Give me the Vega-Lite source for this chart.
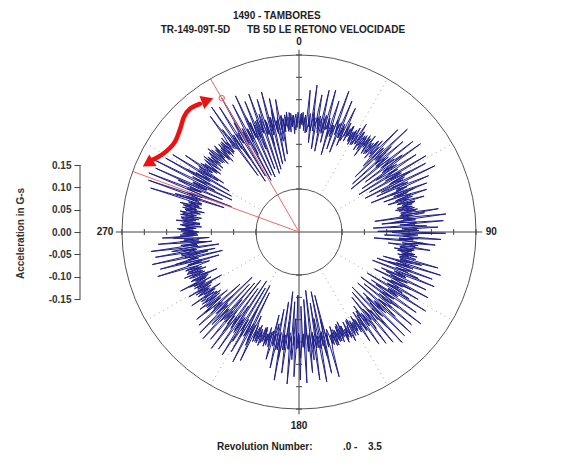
{
  "$schema": "https://vega.github.io/schema/vega-lite/v6.json",
  "width": 568,
  "height": 475,
  "padding": 0,
  "autosize": {"type": "none"},
  "background": "white",
  "config": {"view": {"stroke": null}, "font": "Liberation Sans"},
  "datasets": {
    "notes": [
      {"x": -0.1478, "y": 0.4835, "t": "1490 - TAMBORES"},
      {"x": -0.3095, "y": 0.4522, "t": "TR-149-09T-5D"},
      {"x": -0.1164, "y": 0.4522, "t": "TB 5D LE RETONO VELOCIDADE"},
      {"x": -0.1836, "y": -0.4813, "t": "Revolution Number:"},
      {"x": 0.0985, "y": -0.4813, "t": ".0 -"},
      {"x": 0.1545, "y": -0.4813, "t": "3.5"}
    ],
    "scaleline": [{"x": -0.4903, "y": -0.15, "y2": 0.15}],
    "polar": [
      {"p":"grid","d":30,"mG":-150},{"p":"grid","d":30,"mG":150},
      {"p":"grid","d":60,"mG":-150},{"p":"grid","d":60,"mG":150},
      {"p":"grid","d":120,"mG":-150},{"p":"grid","d":120,"mG":150},
      {"p":"grid","d":150,"mG":-150},{"p":"grid","d":150,"mG":150},
      {"p":"grid","d":210,"mG":-150},{"p":"grid","d":210,"mG":150},
      {"p":"grid","d":240,"mG":-150},{"p":"grid","d":240,"mG":150},
      {"p":"grid","d":300,"mG":-150},{"p":"grid","d":300,"mG":150},
      {"p":"grid","d":330,"mG":-150},{"p":"grid","d":330,"mG":150},
      {"p":"ring","d":0,"mG":150},{"p":"ring","d":0,"mG":-150},
      {"p":"axis","k":"v","d":0,"mG":162},{"p":"axis","k":"v","d":180,"mG":162},
      {"p":"axis","k":"h","d":90,"mG":164},{"p":"axis","k":"h","d":270,"mG":164},
      {"p":"tick","d":0,"mG":-150},{"p":"tick","d":0,"mG":-100},{"p":"tick","d":0,"mG":-50},{"p":"tick","d":0,"mG":0},{"p":"tick","d":0,"mG":50},{"p":"tick","d":0,"mG":100},{"p":"tick","d":0,"mG":150},
      {"p":"tick","d":90,"mG":-150},{"p":"tick","d":90,"mG":-100},{"p":"tick","d":90,"mG":-50},{"p":"tick","d":90,"mG":0},{"p":"tick","d":90,"mG":50},{"p":"tick","d":90,"mG":100},{"p":"tick","d":90,"mG":150},
      {"p":"tick","d":180,"mG":-150},{"p":"tick","d":180,"mG":-100},{"p":"tick","d":180,"mG":-50},{"p":"tick","d":180,"mG":0},{"p":"tick","d":180,"mG":50},{"p":"tick","d":180,"mG":100},{"p":"tick","d":180,"mG":150},
      {"p":"tick","d":270,"mG":-150},{"p":"tick","d":270,"mG":-100},{"p":"tick","d":270,"mG":-50},{"p":"tick","d":270,"mG":0},{"p":"tick","d":270,"mG":50},{"p":"tick","d":270,"mG":100},{"p":"tick","d":270,"mG":150},
      {"p":"red","d":330,"mG":-246.3},{"p":"red","d":330,"mG":150},
      {"p":"red","d":290,"mG":-246.3},{"p":"red","d":290,"mG":150},
      {"p":"arrow","i":1,"d":322.3,"mG":116},{"p":"arrow","i":2,"d":318.5,"mG":122},{"p":"arrow","i":3,"d":315,"mG":118},
      {"p":"arrow","i":4,"d":310.6,"mG":105},{"p":"arrow","i":5,"d":305.5,"mG":97},{"p":"arrow","i":6,"d":299.8,"mG":105},
      {"p":"arrow","i":7,"d":296.1,"mG":120},
      {"p":"head","d":325.2,"mG":112.6,"dir":340},{"p":"head","d":294.4,"mG":125.3,"dir":148},
      {"p":"mark","d":330,"mG":100},
      {"p":"lbl","d":0,"mG":179,"t":"0"},{"p":"lbl","d":90,"mG":184,"t":"90"},
      {"p":"lbl","d":180,"mG":189,"t":"180"},{"p":"lbl","d":270,"mG":188,"t":"270"},
      {"d":0,"mG":8},{"d":0.5,"mG":-15},{"d":1,"mG":18},{"d":1.5,"mG":-6},{"d":2,"mG":22},{"d":2.5,"mG":-19},{"d":3,"mG":10},{"d":3.5,"mG":-24},{"d":4,"mG":14},{"d":4.5,"mG":72},
      {"d":5,"mG":-10},{"d":5.5,"mG":20},{"d":6,"mG":-45},{"d":6.5,"mG":6},{"d":7,"mG":85},{"d":7.5,"mG":-18},{"d":8,"mG":12},{"d":8.5,"mG":-58},{"d":9,"mG":25},{"d":9.5,"mG":65},
      {"d":10,"mG":-12},{"d":10.5,"mG":18},{"d":11,"mG":-62},{"d":11.5,"mG":4},{"d":12,"mG":78},{"d":12.5,"mG":-20},{"d":13,"mG":15},{"d":13.5,"mG":-40},{"d":14,"mG":22},{"d":14.5,"mG":82},
      {"d":15,"mG":-8},{"d":15.5,"mG":10},{"d":16,"mG":-66},{"d":16.5,"mG":18},{"d":17,"mG":60},{"d":17.5,"mG":-22},{"d":18,"mG":5},{"d":18.5,"mG":-50},{"d":19,"mG":20},{"d":19.5,"mG":88},
      {"d":20,"mG":-15},{"d":20.5,"mG":12},{"d":21,"mG":-55},{"d":21.5,"mG":8},{"d":22,"mG":70},{"d":22.5,"mG":-18},{"d":23,"mG":16},{"d":23.5,"mG":-35},{"d":24,"mG":20},{"d":24.5,"mG":58},
      {"d":25,"mG":-10},{"d":25.5,"mG":24},{"d":26,"mG":-20},{"d":26.5,"mG":12},{"d":27,"mG":-6},{"d":27.5,"mG":20},{"d":28,"mG":-14},{"d":28.5,"mG":9},{"d":29,"mG":-22},{"d":29.5,"mG":16},
      {"d":30,"mG":-8},{"d":30.5,"mG":24},{"d":31,"mG":-18},{"d":31.5,"mG":6},{"d":32,"mG":38},{"d":32.5,"mG":-12},{"d":33,"mG":19},{"d":33.5,"mG":-26},{"d":34,"mG":4},{"d":34.5,"mG":15},
      {"d":35,"mG":-21},{"d":35.5,"mG":11},{"d":36,"mG":-35},{"d":36.5,"mG":22},{"d":37,"mG":-9},{"d":37.5,"mG":17},{"d":38,"mG":-16},{"d":38.5,"mG":28},{"d":39,"mG":-5},{"d":39.5,"mG":-20},
      {"d":40,"mG":14},{"d":40.5,"mG":-10},{"d":41,"mG":22},{"d":41.5,"mG":-25},{"d":42,"mG":8},{"d":42.5,"mG":30},{"d":43,"mG":-17},{"d":43.5,"mG":12},{"d":44,"mG":72},{"d":44.5,"mG":-15},
      {"d":45,"mG":20},{"d":45.5,"mG":-70},{"d":46,"mG":6},{"d":46.5,"mG":88},{"d":47,"mG":-12},{"d":47.5,"mG":18},{"d":48,"mG":-85},{"d":48.5,"mG":10},{"d":49,"mG":62},{"d":49.5,"mG":-20},
      {"d":50,"mG":15},{"d":50.5,"mG":-95},{"d":51,"mG":8},{"d":51.5,"mG":80},{"d":52,"mG":-14},{"d":52.5,"mG":22},{"d":53,"mG":-60},{"d":53.5,"mG":10},{"d":54,"mG":90},{"d":54.5,"mG":-18},
      {"d":55,"mG":12},{"d":55.5,"mG":-75},{"d":56,"mG":20},{"d":56.5,"mG":68},{"d":57,"mG":-8},{"d":57.5,"mG":16},{"d":58,"mG":-88},{"d":58.5,"mG":4},{"d":59,"mG":85},{"d":59.5,"mG":-22},
      {"d":60,"mG":18},{"d":60.5,"mG":-65},{"d":61,"mG":10},{"d":61.5,"mG":76},{"d":62,"mG":-12},{"d":62.5,"mG":20},{"d":63,"mG":-80},{"d":63.5,"mG":6},{"d":64,"mG":92},{"d":64.5,"mG":-16},
      {"d":65,"mG":14},{"d":65.5,"mG":-55},{"d":66,"mG":22},{"d":66.5,"mG":70},{"d":67,"mG":-10},{"d":67.5,"mG":8},{"d":68,"mG":-72},{"d":68.5,"mG":18},{"d":69,"mG":60},{"d":69.5,"mG":-20},
      {"d":70,"mG":12},{"d":70.5,"mG":-45},{"d":71,"mG":16},{"d":71.5,"mG":55},{"d":72,"mG":-14},{"d":72.5,"mG":20},{"d":73,"mG":-38},{"d":73.5,"mG":10},{"d":74,"mG":45},{"d":74.5,"mG":-18},
      {"d":75,"mG":22},{"d":75.5,"mG":-8},{"d":76,"mG":15},{"d":76.5,"mG":-20},{"d":77,"mG":10},{"d":77.5,"mG":-25},{"d":78,"mG":18},{"d":78.5,"mG":-6},{"d":79,"mG":24},{"d":79.5,"mG":-15},
      {"d":80,"mG":12},{"d":80.5,"mG":70},{"d":81,"mG":-18},{"d":81.5,"mG":10},{"d":82,"mG":-75},{"d":82.5,"mG":20},{"d":83,"mG":85},{"d":83.5,"mG":-12},{"d":84,"mG":16},{"d":84.5,"mG":-60},
      {"d":85,"mG":8},{"d":85.5,"mG":78},{"d":86,"mG":-20},{"d":86.5,"mG":14},{"d":87,"mG":-80},{"d":87.5,"mG":22},{"d":88,"mG":65},{"d":88.5,"mG":-10},{"d":89,"mG":18},{"d":89.5,"mG":-70},
      {"d":90,"mG":6},{"d":90.5,"mG":82},{"d":91,"mG":-16},{"d":91.5,"mG":20},{"d":92,"mG":-55},{"d":92.5,"mG":12},{"d":93,"mG":72},{"d":93.5,"mG":-22},{"d":94,"mG":10},{"d":94.5,"mG":-78},
      {"d":95,"mG":18},{"d":95.5,"mG":60},{"d":96,"mG":-14},{"d":96.5,"mG":22},{"d":97,"mG":-45},{"d":97.5,"mG":8},{"d":98,"mG":50},{"d":98.5,"mG":-18},{"d":99,"mG":15},{"d":99.5,"mG":-30},
      {"d":100,"mG":10},{"d":100.5,"mG":-22},{"d":101,"mG":18},{"d":101.5,"mG":-12},{"d":102,"mG":24},{"d":102.5,"mG":-20},{"d":103,"mG":6},{"d":103.5,"mG":-15},{"d":104,"mG":20},{"d":104.5,"mG":75},
      {"d":105,"mG":-12},{"d":105.5,"mG":16},{"d":106,"mG":-50},{"d":106.5,"mG":8},{"d":107,"mG":85},{"d":107.5,"mG":-18},{"d":108,"mG":22},{"d":108.5,"mG":-62},{"d":109,"mG":10},{"d":109.5,"mG":70},
      {"d":110,"mG":-16},{"d":110.5,"mG":14},{"d":111,"mG":-70},{"d":111.5,"mG":20},{"d":112,"mG":80},{"d":112.5,"mG":-10},{"d":113,"mG":12},{"d":113.5,"mG":-45},{"d":114,"mG":18},{"d":114.5,"mG":66},
      {"d":115,"mG":-20},{"d":115.5,"mG":8},{"d":116,"mG":-58},{"d":116.5,"mG":24},{"d":117,"mG":78},{"d":117.5,"mG":-14},{"d":118,"mG":16},{"d":118.5,"mG":-35},{"d":119,"mG":10},{"d":119.5,"mG":60},
      {"d":120,"mG":-18},{"d":120.5,"mG":22},{"d":121,"mG":-68},{"d":121.5,"mG":12},{"d":122,"mG":88},{"d":122.5,"mG":-10},{"d":123,"mG":16},{"d":123.5,"mG":-52},{"d":124,"mG":20},{"d":124.5,"mG":72},
      {"d":125,"mG":-15},{"d":125.5,"mG":8},{"d":126,"mG":-75},{"d":126.5,"mG":18},{"d":127,"mG":95},{"d":127.5,"mG":-20},{"d":128,"mG":14},{"d":128.5,"mG":-60},{"d":129,"mG":22},{"d":129.5,"mG":80},
      {"d":130,"mG":-12},{"d":130.5,"mG":10},{"d":131,"mG":-72},{"d":131.5,"mG":18},{"d":132,"mG":90},{"d":132.5,"mG":-16},{"d":133,"mG":20},{"d":133.5,"mG":-48},{"d":134,"mG":6},{"d":134.5,"mG":85},
      {"d":135,"mG":-22},{"d":135.5,"mG":14},{"d":136,"mG":-75},{"d":136.5,"mG":12},{"d":137,"mG":92},{"d":137.5,"mG":-10},{"d":138,"mG":18},{"d":138.5,"mG":-66},{"d":139,"mG":22},{"d":139.5,"mG":78},
      {"d":140,"mG":-14},{"d":140.5,"mG":8},{"d":141,"mG":-58},{"d":141.5,"mG":20},{"d":142,"mG":70},{"d":142.5,"mG":-18},{"d":143,"mG":16},{"d":143.5,"mG":-40},{"d":144,"mG":12},{"d":144.5,"mG":62},
      {"d":145,"mG":-20},{"d":145.5,"mG":22},{"d":146,"mG":-30},{"d":146.5,"mG":10},{"d":147,"mG":45},{"d":147.5,"mG":-14},{"d":148,"mG":18},{"d":148.5,"mG":-25},{"d":149,"mG":8},{"d":149.5,"mG":-12},
      {"d":150,"mG":20},{"d":150.5,"mG":-18},{"d":151,"mG":12},{"d":151.5,"mG":-25},{"d":152,"mG":6},{"d":152.5,"mG":28},{"d":153,"mG":-10},{"d":153.5,"mG":18},{"d":154,"mG":-22},{"d":154.5,"mG":14},
      {"d":155,"mG":-6},{"d":155.5,"mG":25},{"d":156,"mG":-16},{"d":156.5,"mG":9},{"d":157,"mG":-28},{"d":157.5,"mG":20},{"d":158,"mG":-12},{"d":158.5,"mG":16},{"d":159,"mG":-20},{"d":159.5,"mG":11},
      {"d":160,"mG":-8},{"d":160.5,"mG":22},{"d":161,"mG":-15},{"d":161.5,"mG":10},{"d":162,"mG":-24},{"d":162.5,"mG":18},{"d":163,"mG":-6},{"d":163.5,"mG":14},{"d":164,"mG":30},{"d":164.5,"mG":90},
      {"d":165,"mG":-12},{"d":165.5,"mG":20},{"d":166,"mG":-100},{"d":166.5,"mG":8},{"d":167,"mG":78},{"d":167.5,"mG":-18},{"d":168,"mG":14},{"d":168.5,"mG":-110},{"d":169,"mG":22},{"d":169.5,"mG":95},
      {"d":170,"mG":-10},{"d":170.5,"mG":16},{"d":171,"mG":-85},{"d":171.5,"mG":12},{"d":172,"mG":88},{"d":172.5,"mG":-20},{"d":173,"mG":18},{"d":173.5,"mG":-115},{"d":174,"mG":6},{"d":174.5,"mG":70},
      {"d":175,"mG":-14},{"d":175.5,"mG":22},{"d":176,"mG":-95},{"d":176.5,"mG":10},{"d":177,"mG":92},{"d":177.5,"mG":-18},{"d":178,"mG":12},{"d":178.5,"mG":-80},{"d":179,"mG":20},{"d":179.5,"mG":85},
      {"d":180,"mG":-16},{"d":180.5,"mG":14},{"d":181,"mG":-105},{"d":181.5,"mG":22},{"d":182,"mG":78},{"d":182.5,"mG":-12},{"d":183,"mG":8},{"d":183.5,"mG":-90},{"d":184,"mG":18},{"d":184.5,"mG":95},
      {"d":185,"mG":-20},{"d":185.5,"mG":16},{"d":186,"mG":-112},{"d":186.5,"mG":10},{"d":187,"mG":72},{"d":187.5,"mG":-14},{"d":188,"mG":20},{"d":188.5,"mG":-88},{"d":189,"mG":12},{"d":189.5,"mG":90},
      {"d":190,"mG":-18},{"d":190.5,"mG":22},{"d":191,"mG":-70},{"d":191.5,"mG":8},{"d":192,"mG":65},{"d":192.5,"mG":-12},{"d":193,"mG":16},{"d":193.5,"mG":-55},{"d":194,"mG":20},{"d":194.5,"mG":48},
      {"d":195,"mG":-15},{"d":195.5,"mG":10},{"d":196,"mG":-24},{"d":196.5,"mG":18},{"d":197,"mG":-8},{"d":197.5,"mG":22},{"d":198,"mG":-16},{"d":198.5,"mG":12},{"d":199,"mG":-20},{"d":199.5,"mG":6},
      {"d":200,"mG":24},{"d":200.5,"mG":-14},{"d":201,"mG":10},{"d":201.5,"mG":-22},{"d":202,"mG":18},{"d":202.5,"mG":-6},{"d":203,"mG":20},{"d":203.5,"mG":-18},{"d":204,"mG":12},{"d":204.5,"mG":70},
      {"d":205,"mG":-16},{"d":205.5,"mG":22},{"d":206,"mG":-95},{"d":206.5,"mG":8},{"d":207,"mG":80},{"d":207.5,"mG":-12},{"d":208,"mG":18},{"d":208.5,"mG":-110},{"d":209,"mG":14},{"d":209.5,"mG":62},
      {"d":210,"mG":-20},{"d":210.5,"mG":10},{"d":211,"mG":-100},{"d":211.5,"mG":16},{"d":212,"mG":78},{"d":212.5,"mG":-14},{"d":213,"mG":22},{"d":213.5,"mG":-115},{"d":214,"mG":12},{"d":214.5,"mG":72},
      {"d":215,"mG":-18},{"d":215.5,"mG":8},{"d":216,"mG":-90},{"d":216.5,"mG":20},{"d":217,"mG":80},{"d":217.5,"mG":-10},{"d":218,"mG":14},{"d":218.5,"mG":-108},{"d":219,"mG":18},{"d":219.5,"mG":65},
      {"d":220,"mG":-16},{"d":220.5,"mG":12},{"d":221,"mG":-95},{"d":221.5,"mG":20},{"d":222,"mG":75},{"d":222.5,"mG":-12},{"d":223,"mG":18},{"d":223.5,"mG":-85},{"d":224,"mG":8},{"d":224.5,"mG":70},
      {"d":225,"mG":-20},{"d":225.5,"mG":14},{"d":226,"mG":-100},{"d":226.5,"mG":22},{"d":227,"mG":60},{"d":227.5,"mG":-14},{"d":228,"mG":10},{"d":228.5,"mG":-70},{"d":229,"mG":16},{"d":229.5,"mG":55},
      {"d":230,"mG":-18},{"d":230.5,"mG":20},{"d":231,"mG":-40},{"d":231.5,"mG":12},{"d":232,"mG":35},{"d":232.5,"mG":-22},{"d":233,"mG":16},{"d":233.5,"mG":-28},{"d":234,"mG":10},{"d":234.5,"mG":22},
      {"d":235,"mG":-14},{"d":235.5,"mG":45},{"d":236,"mG":-20},{"d":236.5,"mG":8},{"d":237,"mG":-36},{"d":237.5,"mG":18},{"d":238,"mG":-10},{"d":238.5,"mG":24},{"d":239,"mG":-16},{"d":239.5,"mG":40},
      {"d":240,"mG":-12},{"d":240.5,"mG":14},{"d":241,"mG":-48},{"d":241.5,"mG":20},{"d":242,"mG":-6},{"d":242.5,"mG":18},{"d":243,"mG":-25},{"d":243.5,"mG":50},{"d":244,"mG":-14},{"d":244.5,"mG":10},
      {"d":245,"mG":-22},{"d":245.5,"mG":16},{"d":246,"mG":-45},{"d":246.5,"mG":8},{"d":247,"mG":20},{"d":247.5,"mG":-18},{"d":248,"mG":30},{"d":248.5,"mG":-10},{"d":249,"mG":12},{"d":249.5,"mG":-24},
      {"d":250,"mG":18},{"d":250.5,"mG":-16},{"d":251,"mG":22},{"d":251.5,"mG":-10},{"d":252,"mG":14},{"d":252.5,"mG":85},{"d":253,"mG":-18},{"d":253.5,"mG":12},{"d":254,"mG":-60},{"d":254.5,"mG":20},
      {"d":255,"mG":75},{"d":255.5,"mG":-14},{"d":256,"mG":10},{"d":256.5,"mG":-70},{"d":257,"mG":16},{"d":257.5,"mG":90},{"d":258,"mG":-20},{"d":258.5,"mG":22},{"d":259,"mG":-55},{"d":259.5,"mG":8},
      {"d":260,"mG":80},{"d":260.5,"mG":-12},{"d":261,"mG":18},{"d":261.5,"mG":-65},{"d":262,"mG":14},{"d":262.5,"mG":88},{"d":263,"mG":-16},{"d":263.5,"mG":20},{"d":264,"mG":-50},{"d":264.5,"mG":10},
      {"d":265,"mG":70},{"d":265.5,"mG":-22},{"d":266,"mG":12},{"d":266.5,"mG":-45},{"d":267,"mG":16},{"d":267.5,"mG":60},{"d":268,"mG":-10},{"d":268.5,"mG":20},{"d":269,"mG":-18},{"d":269.5,"mG":12},
      {"d":270,"mG":-22},{"d":270.5,"mG":18},{"d":271,"mG":-10},{"d":271.5,"mG":26},{"d":272,"mG":-16},{"d":272.5,"mG":8},{"d":273,"mG":-28},{"d":273.5,"mG":20},{"d":274,"mG":-12},{"d":274.5,"mG":15},
      {"d":275,"mG":-24},{"d":275.5,"mG":30},{"d":276,"mG":-8},{"d":276.5,"mG":18},{"d":277,"mG":-20},{"d":277.5,"mG":10},{"d":278,"mG":-26},{"d":278.5,"mG":22},{"d":279,"mG":-14},{"d":279.5,"mG":6},
      {"d":280,"mG":24},{"d":280.5,"mG":-18},{"d":281,"mG":12},{"d":281.5,"mG":-30},{"d":282,"mG":20},{"d":282.5,"mG":-10},{"d":283,"mG":16},{"d":283.5,"mG":-22},{"d":284,"mG":28},{"d":284.5,"mG":-14},
      {"d":285,"mG":8},{"d":285.5,"mG":-20},{"d":286,"mG":18},{"d":286.5,"mG":100},{"d":287,"mG":-12},{"d":287.5,"mG":20},{"d":288,"mG":-70},{"d":288.5,"mG":10},{"d":289,"mG":110},{"d":289.5,"mG":-16},
      {"d":290,"mG":14},{"d":290.5,"mG":-85},{"d":291,"mG":22},{"d":291.5,"mG":115},{"d":292,"mG":-10},{"d":292.5,"mG":18},{"d":293,"mG":-60},{"d":293.5,"mG":12},{"d":294,"mG":105},{"d":294.5,"mG":-20},
      {"d":295,"mG":16},{"d":295.5,"mG":-80},{"d":296,"mG":8},{"d":296.5,"mG":120},{"d":297,"mG":-14},{"d":297.5,"mG":22},{"d":298,"mG":-75},{"d":298.5,"mG":10},{"d":299,"mG":95},{"d":299.5,"mG":-18},
      {"d":300,"mG":20},{"d":300.5,"mG":-65},{"d":301,"mG":12},{"d":301.5,"mG":85},{"d":302,"mG":-16},{"d":302.5,"mG":18},{"d":303,"mG":-45},{"d":303.5,"mG":10},{"d":304,"mG":60},{"d":304.5,"mG":-12},
      {"d":305,"mG":22},{"d":305.5,"mG":-20},{"d":306,"mG":14},{"d":306.5,"mG":-28},{"d":307,"mG":8},{"d":307.5,"mG":20},{"d":308,"mG":-16},{"d":308.5,"mG":26},{"d":309,"mG":-10},{"d":309.5,"mG":18},
      {"d":310,"mG":-24},{"d":310.5,"mG":12},{"d":311,"mG":-14},{"d":311.5,"mG":22},{"d":312,"mG":-8},{"d":312.5,"mG":30},{"d":313,"mG":-18},{"d":313.5,"mG":10},{"d":314,"mG":-26},{"d":314.5,"mG":16},
      {"d":315,"mG":-12},{"d":315.5,"mG":24},{"d":316,"mG":-20},{"d":316.5,"mG":8},{"d":317,"mG":-30},{"d":317.5,"mG":20},{"d":318,"mG":-6},{"d":318.5,"mG":18},{"d":319,"mG":-22},{"d":319.5,"mG":14},
      {"d":320,"mG":-10},{"d":320.5,"mG":26},{"d":321,"mG":-16},{"d":321.5,"mG":12},{"d":322,"mG":30},{"d":322.5,"mG":80},{"d":323,"mG":-14},{"d":323.5,"mG":18},{"d":324,"mG":-90},{"d":324.5,"mG":10},
      {"d":325,"mG":95},{"d":325.5,"mG":-20},{"d":326,"mG":16},{"d":326.5,"mG":-110},{"d":327,"mG":22},{"d":327.5,"mG":85},{"d":328,"mG":-12},{"d":328.5,"mG":14},{"d":329,"mG":-100},{"d":329.5,"mG":20},
      {"d":330,"mG":100},{"d":330.5,"mG":-16},{"d":331,"mG":10},{"d":331.5,"mG":-115},{"d":332,"mG":18},{"d":332.5,"mG":75},{"d":333,"mG":-20},{"d":333.5,"mG":12},{"d":334,"mG":-105},{"d":334.5,"mG":16},
      {"d":335,"mG":90},{"d":335.5,"mG":-14},{"d":336,"mG":22},{"d":336.5,"mG":-112},{"d":337,"mG":8},{"d":337.5,"mG":70},{"d":338,"mG":-18},{"d":338.5,"mG":20},{"d":339,"mG":-95},{"d":339.5,"mG":12},
      {"d":340,"mG":82},{"d":340.5,"mG":-12},{"d":341,"mG":16},{"d":341.5,"mG":-108},{"d":342,"mG":20},{"d":342.5,"mG":65},{"d":343,"mG":-18},{"d":343.5,"mG":10},{"d":344,"mG":-100},{"d":344.5,"mG":14},
      {"d":345,"mG":78},{"d":345.5,"mG":-22},{"d":346,"mG":18},{"d":346.5,"mG":-90},{"d":347,"mG":12},{"d":347.5,"mG":60},{"d":348,"mG":-16},{"d":348.5,"mG":8},{"d":349,"mG":-85},{"d":349.5,"mG":20},
      {"d":350,"mG":55},{"d":350.5,"mG":-14},{"d":351,"mG":16},{"d":351.5,"mG":-70},{"d":352,"mG":10},{"d":352.5,"mG":-20},{"d":353,"mG":18},{"d":353.5,"mG":-8},{"d":354,"mG":24},{"d":354.5,"mG":-16},
      {"d":355,"mG":12},{"d":355.5,"mG":-22},{"d":356,"mG":20},{"d":356.5,"mG":-10},{"d":357,"mG":15},{"d":357.5,"mG":-26},{"d":358,"mG":8},{"d":358.5,"mG":18},{"d":359,"mG":-12},{"d":359.5,"mG":22},
      {"d":360,"mG":8},
      {"rev":2,"d":0.25,"mG":-14},{"rev":2,"d":1.25,"mG":20},{"rev":2,"d":2.25,"mG":-8},{"rev":2,"d":3.25,"mG":16},{"rev":2,"d":4.25,"mG":-22},{"rev":2,"d":5.25,"mG":10},{"rev":2,"d":6.25,"mG":-18},{"rev":2,"d":7.25,"mG":24},{"rev":2,"d":8.25,"mG":-6},{"rev":2,"d":9.25,"mG":14},
      {"rev":2,"d":10.25,"mG":-20},{"rev":2,"d":11.25,"mG":12},{"rev":2,"d":12.25,"mG":-16},{"rev":2,"d":13.25,"mG":22},{"rev":2,"d":14.25,"mG":-10},{"rev":2,"d":15.25,"mG":18},{"rev":2,"d":16.25,"mG":-24},{"rev":2,"d":17.25,"mG":8},{"rev":2,"d":18.25,"mG":-12},{"rev":2,"d":19.25,"mG":20},
      {"rev":2,"d":20.25,"mG":-6},{"rev":2,"d":21.25,"mG":16},{"rev":2,"d":22.25,"mG":-18},{"rev":2,"d":23.25,"mG":10},{"rev":2,"d":24.25,"mG":-22},{"rev":2,"d":25.25,"mG":14},{"rev":2,"d":26.25,"mG":-8},{"rev":2,"d":27.25,"mG":20},{"rev":2,"d":28.25,"mG":-16},{"rev":2,"d":29.25,"mG":12},
      {"rev":2,"d":30.25,"mG":-20},{"rev":2,"d":31.25,"mG":8},{"rev":2,"d":32.25,"mG":-14},{"rev":2,"d":33.25,"mG":22},{"rev":2,"d":34.25,"mG":-12},{"rev":2,"d":35.25,"mG":18},{"rev":2,"d":36.25,"mG":-6},{"rev":2,"d":37.25,"mG":16},{"rev":2,"d":38.25,"mG":-22},{"rev":2,"d":39.25,"mG":10},
      {"rev":2,"d":40.25,"mG":-16},{"rev":2,"d":41.25,"mG":24},{"rev":2,"d":42.25,"mG":-10},{"rev":2,"d":43.25,"mG":14},{"rev":2,"d":44.25,"mG":-40},{"rev":2,"d":45.25,"mG":20},{"rev":2,"d":46.25,"mG":-12},{"rev":2,"d":47.25,"mG":35},{"rev":2,"d":48.25,"mG":-18},{"rev":2,"d":49.25,"mG":8},
      {"rev":2,"d":50.25,"mG":-22},{"rev":2,"d":51.25,"mG":16},{"rev":2,"d":52.25,"mG":-8},{"rev":2,"d":53.25,"mG":42},{"rev":2,"d":54.25,"mG":-14},{"rev":2,"d":55.25,"mG":20},{"rev":2,"d":56.25,"mG":-38},{"rev":2,"d":57.25,"mG":12},{"rev":2,"d":58.25,"mG":-20},{"rev":2,"d":59.25,"mG":18},
      {"rev":2,"d":60.25,"mG":-10},{"rev":2,"d":61.25,"mG":36},{"rev":2,"d":62.25,"mG":-18},{"rev":2,"d":63.25,"mG":14},{"rev":2,"d":64.25,"mG":-42},{"rev":2,"d":65.25,"mG":22},{"rev":2,"d":66.25,"mG":-8},{"rev":2,"d":67.25,"mG":16},{"rev":2,"d":68.25,"mG":-24},{"rev":2,"d":69.25,"mG":30},
      {"rev":2,"d":70.25,"mG":-12},{"rev":2,"d":71.25,"mG":18},{"rev":2,"d":72.25,"mG":-20},{"rev":2,"d":73.25,"mG":10},{"rev":2,"d":74.25,"mG":-16},{"rev":2,"d":75.25,"mG":22},{"rev":2,"d":76.25,"mG":-6},{"rev":2,"d":77.25,"mG":14},{"rev":2,"d":78.25,"mG":-18},{"rev":2,"d":79.25,"mG":20},
      {"rev":2,"d":80.25,"mG":-14},{"rev":2,"d":81.25,"mG":38},{"rev":2,"d":82.25,"mG":-20},{"rev":2,"d":83.25,"mG":12},{"rev":2,"d":84.25,"mG":-36},{"rev":2,"d":85.25,"mG":18},{"rev":2,"d":86.25,"mG":-10},{"rev":2,"d":87.25,"mG":40},{"rev":2,"d":88.25,"mG":-16},{"rev":2,"d":89.25,"mG":22},
      {"rev":2,"d":90.25,"mG":-38},{"rev":2,"d":91.25,"mG":14},{"rev":2,"d":92.25,"mG":-12},{"rev":2,"d":93.25,"mG":20},{"rev":2,"d":94.25,"mG":-22},{"rev":2,"d":95.25,"mG":34},{"rev":2,"d":96.25,"mG":-8},{"rev":2,"d":97.25,"mG":16},{"rev":2,"d":98.25,"mG":-18},{"rev":2,"d":99.25,"mG":12},
      {"rev":2,"d":100.25,"mG":-20},{"rev":2,"d":101.25,"mG":16},{"rev":2,"d":102.25,"mG":-10},{"rev":2,"d":103.25,"mG":22},{"rev":2,"d":104.25,"mG":-14},{"rev":2,"d":105.25,"mG":38},{"rev":2,"d":106.25,"mG":-18},{"rev":2,"d":107.25,"mG":12},{"rev":2,"d":108.25,"mG":-35},{"rev":2,"d":109.25,"mG":20},
      {"rev":2,"d":110.25,"mG":-8},{"rev":2,"d":111.25,"mG":40},{"rev":2,"d":112.25,"mG":-16},{"rev":2,"d":113.25,"mG":14},{"rev":2,"d":114.25,"mG":-32},{"rev":2,"d":115.25,"mG":22},{"rev":2,"d":116.25,"mG":-12},{"rev":2,"d":117.25,"mG":36},{"rev":2,"d":118.25,"mG":-20},{"rev":2,"d":119.25,"mG":10},
      {"rev":2,"d":120.25,"mG":-16},{"rev":2,"d":121.25,"mG":42},{"rev":2,"d":122.25,"mG":-10},{"rev":2,"d":123.25,"mG":18},{"rev":2,"d":124.25,"mG":-38},{"rev":2,"d":125.25,"mG":14},{"rev":2,"d":126.25,"mG":-20},{"rev":2,"d":127.25,"mG":34},{"rev":2,"d":128.25,"mG":-8},{"rev":2,"d":129.25,"mG":22},
      {"rev":2,"d":130.25,"mG":-14},{"rev":2,"d":131.25,"mG":40},{"rev":2,"d":132.25,"mG":-18},{"rev":2,"d":133.25,"mG":12},{"rev":2,"d":134.25,"mG":-36},{"rev":2,"d":135.25,"mG":20},{"rev":2,"d":136.25,"mG":-10},{"rev":2,"d":137.25,"mG":44},{"rev":2,"d":138.25,"mG":-16},{"rev":2,"d":139.25,"mG":18},
      {"rev":2,"d":140.25,"mG":-22},{"rev":2,"d":141.25,"mG":30},{"rev":2,"d":142.25,"mG":-12},{"rev":2,"d":143.25,"mG":16},{"rev":2,"d":144.25,"mG":-28},{"rev":2,"d":145.25,"mG":20},{"rev":2,"d":146.25,"mG":-8},{"rev":2,"d":147.25,"mG":14},{"rev":2,"d":148.25,"mG":-18},{"rev":2,"d":149.25,"mG":12},
      {"rev":2,"d":150.25,"mG":-10},{"rev":2,"d":151.25,"mG":18},{"rev":2,"d":152.25,"mG":-22},{"rev":2,"d":153.25,"mG":14},{"rev":2,"d":154.25,"mG":-6},{"rev":2,"d":155.25,"mG":20},{"rev":2,"d":156.25,"mG":-16},{"rev":2,"d":157.25,"mG":10},{"rev":2,"d":158.25,"mG":-24},{"rev":2,"d":159.25,"mG":16},
      {"rev":2,"d":160.25,"mG":-12},{"rev":2,"d":161.25,"mG":22},{"rev":2,"d":162.25,"mG":-8},{"rev":2,"d":163.25,"mG":16},{"rev":2,"d":164.25,"mG":-20},{"rev":2,"d":165.25,"mG":12},{"rev":2,"d":166.25,"mG":-45},{"rev":2,"d":167.25,"mG":38},{"rev":2,"d":168.25,"mG":-14},{"rev":2,"d":169.25,"mG":20},
      {"rev":2,"d":170.25,"mG":-50},{"rev":2,"d":171.25,"mG":16},{"rev":2,"d":172.25,"mG":-12},{"rev":2,"d":173.25,"mG":42},{"rev":2,"d":174.25,"mG":-18},{"rev":2,"d":175.25,"mG":22},{"rev":2,"d":176.25,"mG":-48},{"rev":2,"d":177.25,"mG":14},{"rev":2,"d":178.25,"mG":-10},{"rev":2,"d":179.25,"mG":36},
      {"rev":2,"d":180.25,"mG":-20},{"rev":2,"d":181.25,"mG":16},{"rev":2,"d":182.25,"mG":-52},{"rev":2,"d":183.25,"mG":40},{"rev":2,"d":184.25,"mG":-12},{"rev":2,"d":185.25,"mG":18},{"rev":2,"d":186.25,"mG":-44},{"rev":2,"d":187.25,"mG":20},{"rev":2,"d":188.25,"mG":-16},{"rev":2,"d":189.25,"mG":38},
      {"rev":2,"d":190.25,"mG":-14},{"rev":2,"d":191.25,"mG":22},{"rev":2,"d":192.25,"mG":-36},{"rev":2,"d":193.25,"mG":12},{"rev":2,"d":194.25,"mG":-18},{"rev":2,"d":195.25,"mG":20},{"rev":2,"d":196.25,"mG":-10},{"rev":2,"d":197.25,"mG":14},{"rev":2,"d":198.25,"mG":-22},{"rev":2,"d":199.25,"mG":16},
      {"rev":2,"d":200.25,"mG":-8},{"rev":2,"d":201.25,"mG":20},{"rev":2,"d":202.25,"mG":-16},{"rev":2,"d":203.25,"mG":12},{"rev":2,"d":204.25,"mG":-40},{"rev":2,"d":205.25,"mG":34},{"rev":2,"d":206.25,"mG":-18},{"rev":2,"d":207.25,"mG":14},{"rev":2,"d":208.25,"mG":-50},{"rev":2,"d":209.25,"mG":22},
      {"rev":2,"d":210.25,"mG":-12},{"rev":2,"d":211.25,"mG":40},{"rev":2,"d":212.25,"mG":-20},{"rev":2,"d":213.25,"mG":16},{"rev":2,"d":214.25,"mG":-46},{"rev":2,"d":215.25,"mG":18},{"rev":2,"d":216.25,"mG":-10},{"rev":2,"d":217.25,"mG":36},{"rev":2,"d":218.25,"mG":-22},{"rev":2,"d":219.25,"mG":14},
      {"rev":2,"d":220.25,"mG":-48},{"rev":2,"d":221.25,"mG":20},{"rev":2,"d":222.25,"mG":-14},{"rev":2,"d":223.25,"mG":38},{"rev":2,"d":224.25,"mG":-18},{"rev":2,"d":225.25,"mG":12},{"rev":2,"d":226.25,"mG":-42},{"rev":2,"d":227.25,"mG":22},{"rev":2,"d":228.25,"mG":-10},{"rev":2,"d":229.25,"mG":30},
      {"rev":2,"d":230.25,"mG":-16},{"rev":2,"d":231.25,"mG":20},{"rev":2,"d":232.25,"mG":-12},{"rev":2,"d":233.25,"mG":24},{"rev":2,"d":234.25,"mG":-20},{"rev":2,"d":235.25,"mG":10},{"rev":2,"d":236.25,"mG":-18},{"rev":2,"d":237.25,"mG":22},{"rev":2,"d":238.25,"mG":-8},{"rev":2,"d":239.25,"mG":16},
      {"rev":2,"d":240.25,"mG":-22},{"rev":2,"d":241.25,"mG":14},{"rev":2,"d":242.25,"mG":-10},{"rev":2,"d":243.25,"mG":28},{"rev":2,"d":244.25,"mG":-16},{"rev":2,"d":245.25,"mG":20},{"rev":2,"d":246.25,"mG":-24},{"rev":2,"d":247.25,"mG":12},{"rev":2,"d":248.25,"mG":-14},{"rev":2,"d":249.25,"mG":22},
      {"rev":2,"d":250.25,"mG":-10},{"rev":2,"d":251.25,"mG":18},{"rev":2,"d":252.25,"mG":-36},{"rev":2,"d":253.25,"mG":14},{"rev":2,"d":254.25,"mG":-20},{"rev":2,"d":255.25,"mG":40},{"rev":2,"d":256.25,"mG":-12},{"rev":2,"d":257.25,"mG":16},{"rev":2,"d":258.25,"mG":-38},{"rev":2,"d":259.25,"mG":22},
      {"rev":2,"d":260.25,"mG":-14},{"rev":2,"d":261.25,"mG":42},{"rev":2,"d":262.25,"mG":-18},{"rev":2,"d":263.25,"mG":12},{"rev":2,"d":264.25,"mG":-34},{"rev":2,"d":265.25,"mG":20},{"rev":2,"d":266.25,"mG":-10},{"rev":2,"d":267.25,"mG":36},{"rev":2,"d":268.25,"mG":-20},{"rev":2,"d":269.25,"mG":14},
      {"rev":2,"d":270.25,"mG":-18},{"rev":2,"d":271.25,"mG":22},{"rev":2,"d":272.25,"mG":-10},{"rev":2,"d":273.25,"mG":16},{"rev":2,"d":274.25,"mG":-24},{"rev":2,"d":275.25,"mG":12},{"rev":2,"d":276.25,"mG":-14},{"rev":2,"d":277.25,"mG":20},{"rev":2,"d":278.25,"mG":-8},{"rev":2,"d":279.25,"mG":18},
      {"rev":2,"d":280.25,"mG":-22},{"rev":2,"d":281.25,"mG":14},{"rev":2,"d":282.25,"mG":-12},{"rev":2,"d":283.25,"mG":20},{"rev":2,"d":284.25,"mG":-16},{"rev":2,"d":285.25,"mG":10},{"rev":2,"d":286.25,"mG":-20},{"rev":2,"d":287.25,"mG":44},{"rev":2,"d":288.25,"mG":-14},{"rev":2,"d":289.25,"mG":18},
      {"rev":2,"d":290.25,"mG":-40},{"rev":2,"d":291.25,"mG":22},{"rev":2,"d":292.25,"mG":-10},{"rev":2,"d":293.25,"mG":48},{"rev":2,"d":294.25,"mG":-18},{"rev":2,"d":295.25,"mG":16},{"rev":2,"d":296.25,"mG":-36},{"rev":2,"d":297.25,"mG":12},{"rev":2,"d":298.25,"mG":-20},{"rev":2,"d":299.25,"mG":42},
      {"rev":2,"d":300.25,"mG":-14},{"rev":2,"d":301.25,"mG":18},{"rev":2,"d":302.25,"mG":-32},{"rev":2,"d":303.25,"mG":22},{"rev":2,"d":304.25,"mG":-10},{"rev":2,"d":305.25,"mG":16},{"rev":2,"d":306.25,"mG":-20},{"rev":2,"d":307.25,"mG":12},{"rev":2,"d":308.25,"mG":-24},{"rev":2,"d":309.25,"mG":14},
      {"rev":2,"d":310.25,"mG":-8},{"rev":2,"d":311.25,"mG":20},{"rev":2,"d":312.25,"mG":-16},{"rev":2,"d":313.25,"mG":22},{"rev":2,"d":314.25,"mG":-12},{"rev":2,"d":315.25,"mG":18},{"rev":2,"d":316.25,"mG":-22},{"rev":2,"d":317.25,"mG":10},{"rev":2,"d":318.25,"mG":-14},{"rev":2,"d":319.25,"mG":20},
      {"rev":2,"d":320.25,"mG":-18},{"rev":2,"d":321.25,"mG":12},{"rev":2,"d":322.25,"mG":-10},{"rev":2,"d":323.25,"mG":40},{"rev":2,"d":324.25,"mG":-20},{"rev":2,"d":325.25,"mG":16},{"rev":2,"d":326.25,"mG":-48},{"rev":2,"d":327.25,"mG":14},{"rev":2,"d":328.25,"mG":-12},{"rev":2,"d":329.25,"mG":38},
      {"rev":2,"d":330.25,"mG":-22},{"rev":2,"d":331.25,"mG":18},{"rev":2,"d":332.25,"mG":-50},{"rev":2,"d":333.25,"mG":12},{"rev":2,"d":334.25,"mG":-16},{"rev":2,"d":335.25,"mG":36},{"rev":2,"d":336.25,"mG":-20},{"rev":2,"d":337.25,"mG":14},{"rev":2,"d":338.25,"mG":-46},{"rev":2,"d":339.25,"mG":22},
      {"rev":2,"d":340.25,"mG":-10},{"rev":2,"d":341.25,"mG":32},{"rev":2,"d":342.25,"mG":-18},{"rev":2,"d":343.25,"mG":16},{"rev":2,"d":344.25,"mG":-44},{"rev":2,"d":345.25,"mG":20},{"rev":2,"d":346.25,"mG":-12},{"rev":2,"d":347.25,"mG":34},{"rev":2,"d":348.25,"mG":-22},{"rev":2,"d":349.25,"mG":14},
      {"rev":2,"d":350.25,"mG":-40},{"rev":2,"d":351.25,"mG":18},{"rev":2,"d":352.25,"mG":-16},{"rev":2,"d":353.25,"mG":12},{"rev":2,"d":354.25,"mG":-20},{"rev":2,"d":355.25,"mG":22},{"rev":2,"d":356.25,"mG":-10},{"rev":2,"d":357.25,"mG":16},{"rev":2,"d":358.25,"mG":-18},{"rev":2,"d":359.25,"mG":12}
    ]
  },
  "encoding": {
    "x": {"field": "x", "type": "quantitative", "scale": {"domain": [-0.6694, 0.6022], "nice": false, "zero": false}, "axis": null},
    "y": {
      "field": "y", "type": "quantitative",
      "scale": {"domain": [-0.544, 0.5194], "nice": false, "zero": false},
      "axis": {
        "orient": "left", "offset": -80, "domain": false, "grid": false,
        "values": [-0.15, -0.1, -0.05, 0, 0.05, 0.1, 0.15],
        "format": ".2f", "labelExpr": "replace(datum.label, '\u2212', '-')",
        "tickSize": 6, "tickColor": "#444444",
        "labelFont": "Liberation Sans", "labelFontSize": 10, "labelFontWeight": "bold", "labelColor": "#333333", "labelPadding": 3,
        "title": "Acceleration in G-s", "titleFont": "Liberation Sans", "titleFontSize": 10, "titleFontWeight": "bold", "titleColor": "#333333",
        "titleX": -60, "titleY": 233, "titleAngle": -90, "titleAlign": "center", "titleBaseline": "middle"
      }
    }
  },
  "layer": [
    {
      "data": {"name": "polar"},
      "transform": [
        {"calculate": "(datum.mG + 246.3) / 1000", "as": "r"},
        {"calculate": "datum.r * sin(datum.d * PI / 180)", "as": "x"},
        {"calculate": "datum.r * cos(datum.d * PI / 180)", "as": "y"}
      ],
      "layer": [
        {
          "transform": [{"filter": "datum.p == 'grid'"}],
          "mark": {"type": "line", "stroke": "#a0a0a0", "strokeWidth": 1, "strokeDash": [1, 4]},
          "encoding": {"detail": {"field": "d"}}
        },
        {
          "transform": [{"filter": "datum.p == 'ring'"}],
          "mark": {"type": "point", "shape": "circle", "filled": false, "stroke": "#555555", "strokeWidth": 1, "opacity": 1},
          "encoding": {
            "x": {"datum": 0},
            "y": {"datum": 0},
            "size": {"field": "r", "type": "quantitative", "legend": null, "scale": {"type": "pow", "exponent": 2, "domain": [0, 0.4], "range": [0, 127706], "zero": true}}
          }
        },
        {
          "transform": [{"filter": "datum.p == 'axis'"}],
          "mark": {"type": "line", "stroke": "#444444", "strokeWidth": 1},
          "encoding": {"detail": {"field": "k"}}
        },
        {
          "transform": [{"filter": "datum.p == 'tick'"}],
          "mark": {"type": "point", "shape": "stroke", "size": 36, "stroke": "#444444", "strokeWidth": 1, "opacity": 1},
          "encoding": {"angle": {"field": "d", "type": "quantitative", "scale": null}}
        },
        {
          "transform": [{"filter": "!datum.p"}],
          "mark": {"type": "line", "stroke": "#20208a", "strokeWidth": 1},
          "encoding": {"detail": {"field": "rev"}, "order": {"field": "d", "type": "quantitative"}}
        },
        {
          "transform": [{"filter": "datum.p == 'red'"}],
          "mark": {"type": "line", "stroke": "#ee6a6a", "strokeWidth": 1},
          "encoding": {"detail": {"field": "d"}}
        },
        {
          "transform": [{"filter": "datum.p == 'mark'"}],
          "mark": {"type": "point", "shape": "circle", "size": 30, "stroke": "#e05a5a", "strokeWidth": 1, "filled": false, "opacity": 1}
        },
        {
          "transform": [{"filter": "datum.p == 'arrow'"}],
          "mark": {"type": "line", "stroke": "#f01010", "strokeWidth": 4.5, "interpolate": "cardinal", "strokeCap": "round"},
          "encoding": {"order": {"field": "i", "type": "quantitative"}}
        },
        {
          "transform": [{"filter": "datum.p == 'head'"}],
          "mark": {"type": "point", "shape": "triangle-right", "size": 190, "filled": true, "color": "#f01010", "opacity": 1},
          "encoding": {"angle": {"field": "dir", "type": "quantitative", "scale": null}}
        },
        {
          "transform": [{"filter": "datum.p == 'lbl'"}],
          "mark": {"type": "text", "font": "Liberation Sans", "fontSize": 10, "fontWeight": "bold", "color": "#222222", "align": "center", "baseline": "middle"},
          "encoding": {"text": {"field": "t"}}
        }
      ]
    },
    {
      "data": {"name": "notes"},
      "mark": {"type": "text", "font": "Liberation Sans", "fontSize": 10, "fontWeight": "bold", "color": "#222222", "align": "left", "baseline": "middle"},
      "encoding": {"text": {"field": "t"}}
    },
    {
      "data": {"name": "scaleline"},
      "mark": {"type": "rule", "color": "#444444", "strokeWidth": 1},
      "encoding": {"y2": {"field": "y2"}}
    }
  ]
}
